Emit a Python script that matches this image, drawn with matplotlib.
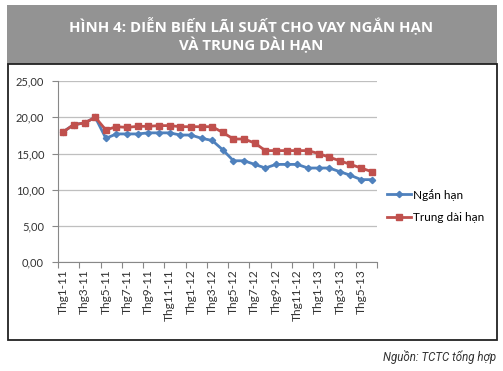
import matplotlib
matplotlib.use("Agg")
import matplotlib.pyplot as plt
from matplotlib.patches import Rectangle

months = [f"Thg{m}-{y}" for y in (11, 12, 13) for m in range(1, 13)][:30]
ngan_han = [18.0, 19.0, 19.2, 20.0, 17.1, 17.7, 17.7, 17.7, 17.85, 17.85,
            17.85, 17.55, 17.55, 17.1, 16.8, 15.5, 14.0, 14.0, 13.5, 13.0,
            13.5, 13.5, 13.5, 13.0, 13.0, 13.0, 12.5, 12.0, 11.4, 11.4]
trung_dai_han = [18.0, 19.0, 19.2, 20.0, 18.25, 18.7, 18.6, 18.75, 18.75, 18.85,
                 18.85, 18.7, 18.7, 18.7, 18.7, 17.9, 17.0, 17.0, 16.45, 15.4,
                 15.4, 15.4, 15.4, 15.4, 15.0, 14.5, 14.0, 13.5, 13.0, 12.5]
yticks = [0, 5, 10, 15, 20, 25]
title_lines = ["HÌNH 4: DIỄN BIẾN LÃI SUẤT CHO VAY NGẮN HẠN", "VÀ TRUNG DÀI HẠN"]
source = "Nguồn: TCTC tổng hợp"

W, H = 503, 371
fig = plt.figure(figsize=(W / 100, H / 100), dpi=100)

def fx(px):
    return px / W

def fy(py):
    return 1 - py / H

# banner
fig.patches.append(Rectangle((fx(7), fy(65)), fx(490), (60) / H,
                             transform=fig.transFigure, facecolor="#939393",
                             edgecolor="none", zorder=-2))
# chart box
fig.patches.append(Rectangle((fx(8), fy(340)), fx(489), (276) / H,
                             transform=fig.transFigure, facecolor="white",
                             edgecolor="#222222", linewidth=1.3, zorder=-1))

fig.text(0.5, fy(25), title_lines[0], ha="center", va="center", color="white",
         fontsize=10.8, fontweight="bold", family=["Open Sans", "DejaVu Sans"])
fig.text(0.5, fy(45), title_lines[1], ha="center", va="center", color="white",
         fontsize=10.8, fontweight="bold", family=["Open Sans", "DejaVu Sans"])
fig.text(fx(496), fy(357), source, ha="right", va="center", color="#333333",
         fontsize=8.3, style="italic",
         family=["Liberation Sans Narrow", "Roboto", "DejaVu Sans"])

ax = fig.add_axes([fx(58), fy(262.3), fx(377 - 58), (262.3 - 81) / H])
ax.set_zorder(2)
ax.patch.set_visible(False)
x = list(range(len(months)))
ax.plot(x, ngan_han, color="#4F81BD", linewidth=2, marker="D", markersize=3.2,
        label="Ngắn hạn", zorder=3)
ax.plot(x, trung_dai_han, color="#C0504D", linewidth=2, marker="s", markersize=4.6,
        label="Trung dài hạn", zorder=4)

ax.set_xlim(-0.5, len(months) - 0.5)
ax.set_ylim(0, 25)
ax.set_yticks(yticks)
ax.set_yticklabels([f"{v:.2f}".replace(".", ",") for v in yticks],
                   fontsize=8, color="#333333", family=["Lato", "DejaVu Sans"])
ax.yaxis.grid(True, color="#BFBFBF", linewidth=0.9)
ax.set_axisbelow(True)

# major ticks at category boundaries every 2, labels as minor ticks
ax.set_xticks([i - 0.5 for i in range(0, len(months) + 1, 2)])
ax.set_xticklabels([])
ax.set_xticks(x[::2], minor=True)
ax.set_xticklabels(months[::2], minor=True, rotation=90, fontsize=8.6,
                   color="#333333", family=["Lato", "DejaVu Sans"])
ax.tick_params(axis="x", which="minor", length=0, pad=5)
ax.tick_params(axis="x", which="major", length=4, color="#888888", width=0.8)
ax.tick_params(axis="y", length=4, color="#888888", width=0.8, pad=6)

for s in ("top", "right"):
    ax.spines[s].set_visible(False)
for s in ("left", "bottom"):
    ax.spines[s].set_color("#888888")
    ax.spines[s].set_linewidth(0.8)

leg = fig.legend(handles=ax.get_lines(), loc="center left",
                 bbox_to_anchor=(fx(376), fy(206)), frameon=False,
                 handlelength=2.1, handletextpad=0.15, labelspacing=1.0,
                 prop={"family": ["Lato", "DejaVu Sans"], "size": 8.5})

fig.savefig("out.png", dpi=100)
